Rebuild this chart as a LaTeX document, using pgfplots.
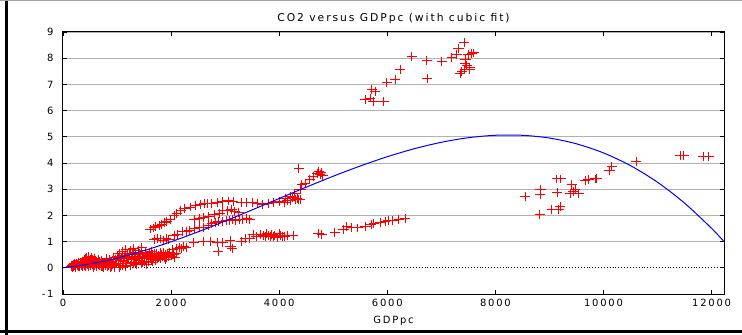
\documentclass[border=0pt]{standalone}
\usepackage{fontspec}
\setmainfont{DejaVu Sans}[LetterSpace=18]
\usepackage{pgfplots}
\pgfplotsset{compat=1.18}
\pgfplotstableread{
x y
150 0.05
160 0.10
170 0.02
180 0.08
190 0.12
200 0.04
210 0.15
220 0.07
230 0.11
240 0.02
250 0.18
260 0.09
270 0.13
280 0.05
290 0.20
300 0.10
310 0.03
320 0.16
330 0.22
340 0.08
350 0.12
360 0.25
370 0.04
380 0.18
390 0.30
400 0.10
410 0.35
420 0.06
430 0.22
440 0.40
450 0.14
460 0.28
470 0.03
480 0.45
490 0.19
500 0.32
510 0.08
520 0.25
530 0.38
540 0.12
550 0.30
560 0.02
570 0.22
580 0.35
590 0.10
600 0.27
620 0.05
624 0.18
640 0.20
650 0.12
660 0.33
680 0.08
684 0.25
700 0.15
704 0.05
720 0.28
730 0.12
740 0.03
750 0.00
760 0.22
780 0.10
790 0.20
800 0.35
820 0.05
840 0.18
850 0.10
860 0.30
870 0.22
880 0.02
900 0.25
904 0.05
920 0.12
930 0.18
940 0.40
950 0.00
960 0.08
980 0.30
990 0.15
1000 0.45
1020 0.18
1030 0.35
1040 0.55
1050 0.02
1060 0.10
1070 0.28
1080 0.38
1100 0.62
1104 0.10
1120 0.25
1130 0.40
1140 0.48
1150 0.05
1160 0.70
1180 0.15
1190 0.42
1200 0.55
1220 0.35
1230 0.50
1240 0.68
1250 0.08
1260 0.22
1270 0.38
1280 0.50
1300 0.75
1304 0.15
1320 0.30
1330 0.45
1340 0.58
1350 0.20
1360 0.12
1380 0.45
1390 0.35
1400 0.65
1410 0.55
1420 0.28
1440 0.52
1450 0.15
1460 0.78
1470 0.45
1480 0.20
1500 0.40
1504 0.25
1520 0.60
1530 0.50
1540 0.35
1550 0.12
1560 0.48
1580 0.25
1590 0.40
1600 0.55
1616 0.42
1630 0.62
1640 0.30
1650 0.22
1660 0.50
1676 0.38
1690 0.55
1700 0.45
1704 0.30
1716 0.28
1736 0.55
1750 0.35
1760 0.40
1776 0.48
1796 0.35
1810 0.60
1816 0.52
1840 0.42
1856 0.58
1870 0.38
1880 0.45
1896 0.50
1904 0.32
1920 0.40
1940 0.55
1946 0.42
1960 0.48
1976 0.60
2000 0.45
2020 0.52
2046 0.50
2070 0.40
2096 0.55
2030 0.70
2104 0.75
2160 0.78
2200 0.72
2230 0.80
2280 0.76
2420 0.96
2600 1.02
2720 1.00
2850 0.96
2870 0.62
2950 0.95
3090 1.05
3100 0.80
3130 0.72
1620 1.48
1680 1.52
1720 1.58
1780 1.62
1830 1.66
1884 1.72
1924 1.78
1980 1.85
2054 2.00
2108 2.08
2180 2.18
2250 2.25
2350 2.32
2450 2.38
2550 2.42
2620 2.44
2680 2.45
2750 2.47
2854 2.50
2956 2.52
3054 2.55
3150 2.53
3300 2.50
3400 2.48
3500 2.50
3600 2.45
3700 2.42
3800 2.45
3900 2.48
4000 2.52
4100 2.48
4204 2.55
4300 2.60
4250 2.70
4350 2.62
4150 2.58
4110 2.66
4210 2.72
4290 2.85
4394 2.98
4420 3.17
4480 3.23
4570 3.36
4630 3.49
4700 3.60
4734 3.68
4760 3.55
4780 3.65
4800 3.52
4360 3.80
4330 2.66
4388 2.60
1686 1.08
1740 1.12
1800 1.10
1860 1.05
1906 1.12
1956 1.08
2060 1.22
2120 1.28
2204 1.38
2284 1.40
2340 1.42
2424 1.50
2520 1.55
2604 1.55
2686 1.62
2754 1.68
2820 1.72
2874 1.75
2946 1.78
3020 1.80
3080 1.82
3134 1.85
3200 1.80
3260 1.85
3320 1.85
3404 1.88
3450 1.85
2430 1.85
2526 1.88
2596 1.92
2700 1.95
2800 2.02
2900 2.08
2960 2.17
3050 2.20
3120 2.24
3180 2.15
3250 2.10
3304 1.00
3370 1.13
3456 1.10
3520 1.26
3580 1.20
3650 1.26
3706 1.22
3740 1.18
3770 1.32
3806 1.25
3830 1.20
3860 1.28
3890 1.19
3920 1.24
3960 1.15
4006 1.30
4020 1.22
4060 1.20
4104 1.18
4156 1.25
4260 1.22
4728 1.32
4790 1.28
5030 1.35
5190 1.45
5250 1.57
5340 1.55
5450 1.52
5596 1.58
5700 1.65
5750 1.68
5870 1.73
5960 1.77
6020 1.81
6100 1.80
6210 1.86
6330 1.88
5590 6.41
5683 6.48
5714 6.82
5775 6.73
5744 6.35
5929 6.35
5991 7.07
6145 7.20
6238 7.58
6454 8.07
6731 7.91
6738 7.24
7009 7.87
7194 8.04
7287 8.13
7318 8.36
7423 8.60
7349 7.40
7380 7.48
7436 7.58
7472 7.71
7530 7.65
7524 7.55
7441 7.81
7446 7.96
7503 8.13
7565 8.19
7595 8.20
8552 2.72
8829 2.79
8834 2.98
8824 2.02
9045 2.21
9168 2.21
9199 2.34
9137 3.39
9204 3.39
9142 2.88
9415 3.17
9384 2.85
9446 2.91
9477 2.98
9538 2.85
9662 3.33
9723 3.36
9847 3.39
9878 3.42
10111 3.72
10155 3.87
10605 4.06
11421 4.27
11483 4.27
11852 4.25
11945 4.25
}\ptsdata
\pgfplotstableread{
x y
0 0
500 0.148
1000 0.370
1500 0.656
2000 0.995
2500 1.374
3000 1.783
3500 2.211
4000 2.646
4500 3.078
5000 3.495
5500 3.886
6000 4.240
6500 4.545
7000 4.790
7500 4.965
8000 5.058
8500 5.057
9000 4.953
9500 4.732
10000 4.385
10500 3.900
11000 3.266
11500 2.469
12000 1.505
12230 1.000
}\fitdata
\begin{document}
\begin{tikzpicture}
\useasboundingbox (0,0) rectangle (742bp,335bp);
\fill[white] (0,0) rectangle (742bp,335bp);
\begin{axis}[
  at={(63bp,41bp)}, anchor=south west, scale only axis,
  width=661bp, height=262bp,
  xmin=0, xmax=12230, ymin=-1, ymax=9,
  xtick={0,2000,...,12000},
  ytick={-1,1,2,3,4,5,6,7,8,9},
  extra y ticks={0},
  extra y tick style={major grid style={black, dotted, line width=0.8bp}},
  scaled x ticks=false,
  /pgf/number format/assume math mode=true,
  xticklabel style={/pgf/number format/1000 sep={}, yshift=-2bp},
  yticklabel style={xshift=-6bp},
  tick label style={font=\fontsize{10}{12}\selectfont},
  tick align=inside, major tick length=4bp,
  tick style={black, line width=0.7bp},
  axis line style={black, line width=1bp},
  ymajorgrids, major grid style={gray!60, line width=0.9bp},
  title={CO2 versus GDPpc (with cubic fit)},
  title style={at={(0.5,1)}, anchor=center, yshift=7bp, font=\fontsize{10.8}{12}\selectfont},
  xlabel={GDPpc},
  xlabel style={at={(0.5,0)}, anchor=center, yshift=-26.5bp, font=\fontsize{10}{12}\selectfont},
]
\addplot[draw=none, mark=none,
  error bars/.cd, x dir=both, x fixed=95, y dir=both, y fixed=0.17,
  error mark=none,
  error bar style={draw=red, line width=1bp, solid}] table {\ptsdata};
\addplot[blue, line width=1bp, smooth] table {\fitdata};
\end{axis}
\draw[black, line width=3bp] (6.5bp,0) -- (6.5bp,335bp);
\draw[black, line width=3bp] (0,3.5bp) -- (742bp,3.5bp);
\draw[gray!70, line width=1bp] (0,334.5bp) -- (742bp,334.5bp);
\end{tikzpicture}
\end{document}
